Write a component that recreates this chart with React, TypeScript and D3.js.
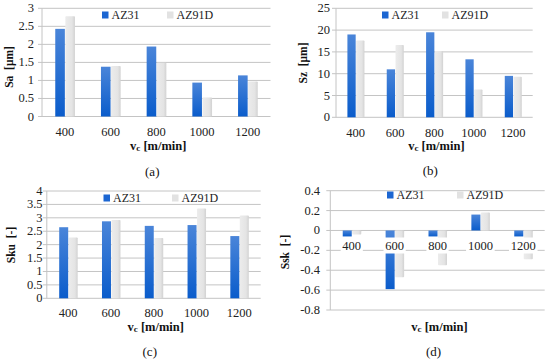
import React from "react";
import * as d3 from "d3";

const categories = ["400", "600", "800", "1000", "1200"];
const seriesNames = ["AZ31", "AZ91D"];
const saAZ31 = [2.43, 1.38, 1.94, 0.94, 1.14];
const saAZ91D = [2.78, 1.4, 1.49, 0.53, 0.97];
const szAZ31 = [19.0, 11.0, 19.5, 13.3, 9.5];
const szAZ91D = [17.6, 16.6, 15.2, 6.4, 9.3];
const skuAZ31 = [2.65, 2.87, 2.7, 2.73, 2.32];
const skuAZ91D = [2.27, 2.92, 2.25, 3.35, 3.09];
const sskAZ31 = [-0.06, -0.59, -0.06, 0.16, -0.06];
const sskAZ91D = [-0.04, -0.47, -0.35, 0.18, -0.29];

const FONT = "Liberation Serif";
const GRID = "#c4c4c4";
const TICK_FS = 12.5;
const LEG_FS = 12;

type PanelCfg = {
  id: string;
  a: number[];
  b: number[];
  x0: number;
  x1: number;
  yRange: [number, number];
  domain: [number, number];
  step: number;
  tickRight: number;
  yTitle: string;
  yTitlePos: [number, number];
  legY: number;
  legBlueX: number;
  legGrayX: number;
  xLabelY: number;
  xTitleY: number;
  capY: number;
  cap: string;
  labelBg?: boolean;
};

const panels: PanelCfg[] = [
  {
    id: "a", a: saAZ31, b: saAZ91D, x0: 42, x1: 270.5, yRange: [116.5, 8.3], domain: [0, 3], step: 0.5,
    tickRight: 34, yTitle: "Sa  [μm]", yTitlePos: [8.5, 67], legY: 15, legBlueX: 102, legGrayX: 167,
    xLabelY: 132, xTitleY: 146, capY: 171, cap: "(a)",
  },
  {
    id: "b", a: szAZ31, b: szAZ91D, x0: 336, x1: 532.7, yRange: [117.3, 8.3], domain: [0, 25], step: 5,
    tickRight: 330, yTitle: "Sz  [μm]", yTitlePos: [303, 63], legY: 15, legBlueX: 382, legGrayX: 442,
    xLabelY: 132.5, xTitleY: 146, capY: 170, cap: "(b)",
  },
  {
    id: "c", a: skuAZ31, b: skuAZ91D, x0: 46.8, x1: 260.7, yRange: [298.3, 191], domain: [0, 4], step: 0.5,
    tickRight: 42.5, yTitle: "Sku  [-]", yTitlePos: [11, 245], legY: 198, legBlueX: 103.5, legGrayX: 172,
    xLabelY: 313, xTitleY: 327, capY: 351.5, cap: "(c)",
  },
  {
    id: "d", a: sskAZ31, b: sskAZ91D, x0: 330.3, x1: 544.7, yRange: [310, 190.7], domain: [-0.8, 0.4], step: 0.2,
    tickRight: 320, yTitle: "Ssk  [-]", yTitlePos: [285, 252], legY: 195, legBlueX: 387, legGrayX: 457,
    xLabelY: 245.5, xTitleY: 327, capY: 351, cap: "(d)", labelBg: true,
  },
];

function fmt(v: number) {
  const r = Math.round(v * 10) / 10;
  return String(r === 0 ? 0 : r);
}

function Panel({ p }: { p: PanelCfg }) {
  const x = d3.scaleBand<string>().domain(categories).range([p.x0, p.x1]);
  const y = d3.scaleLinear().domain(p.domain).range(p.yRange);
  const n = Math.round((p.domain[1] - p.domain[0]) / p.step);
  const ticks = d3.range(n + 1).map((i) => p.domain[0] + i * p.step);
  const bw = x.step() * 0.21;
  const y0 = y(0);
  return (
    <g>
      {ticks.map((t, i) => (
        <g key={i}>
          <line x1={p.x0 - 4} x2={p.x1} y1={y(t)} y2={y(t)} stroke={GRID} strokeWidth={1} />
          <text x={p.tickRight} y={y(t)} textAnchor="end" dominantBaseline="central" fontSize={TICK_FS} fontFamily={FONT} fill="#222">
            {fmt(t)}
          </text>
        </g>
      ))}
      <line x1={p.x0} x2={p.x0} y1={p.yRange[1]} y2={p.yRange[0]} stroke={GRID} strokeWidth={1} />
      {categories.map((c, i) => {
        const cx = (x(c) as number) + x.bandwidth() / 2;
        const va = p.a[i];
        const vb = p.b[i];
        return (
          <g key={c}>
            <rect x={cx + 0.5} y={Math.min(y(vb), y0)} width={bw} height={Math.abs(y(vb) - y0)} fill={`url(#gray-${p.id})`} rx={0.8} />
            <rect x={cx - bw} y={Math.min(y(va), y0)} width={bw} height={Math.abs(y(va) - y0)} fill={`url(#blue-${p.id})`} />
          </g>
        );
      })}
      {categories.map((c) => {
        const cx = (x(c) as number) + x.bandwidth() / 2;
        const w = c.length * 6.4 + 3;
        return (
          <g key={"l" + c}>
            {p.labelBg && <rect x={cx - w / 2} y={p.xLabelY - 8} width={w} height={16} fill="#fff" />}
            <text x={cx} y={p.xLabelY} textAnchor="middle" dominantBaseline="central" fontSize={TICK_FS} fontFamily={FONT} fill="#222">
              {c}
            </text>
          </g>
        );
      })}
      <text
        transform={`translate(${p.yTitlePos[0]},${p.yTitlePos[1]}) rotate(-90)`}
        textAnchor="middle"
        dominantBaseline="central"
        fontSize={11.5}
        fontWeight="bold"
        fontFamily={FONT}
        fill="#111"
        style={{ whiteSpace: "pre" }}
      >
        {p.yTitle}
      </text>
      <text x={(p.x0 + p.x1) / 2 + 2} y={p.xTitleY} textAnchor="middle" dominantBaseline="central" fontSize={12.5} fontWeight="bold" fontFamily={FONT} fill="#111">
        v<tspan fontSize={9} dy={2}>c</tspan>
        <tspan dy={-2}> [m/min]</tspan>
      </text>
      <text x={(p.x0 + p.x1) / 2 - 4} y={p.capY} textAnchor="middle" dominantBaseline="central" fontSize={13} fontFamily={FONT} fill="#111">
        {p.cap}
      </text>
      <rect x={p.legBlueX} y={p.legY - 3.5} width={6.5} height={7} fill="#1c66d2" />
      <text x={p.legBlueX + 9.5} y={p.legY} dominantBaseline="central" fontSize={LEG_FS} fontFamily={FONT} fill="#222">
        {seriesNames[0]}
      </text>
      <rect x={p.legGrayX} y={p.legY - 3.5} width={6.5} height={7} fill="#e2e2e2" />
      <text x={p.legGrayX + 9.5} y={p.legY} dominantBaseline="central" fontSize={LEG_FS} fontFamily={FONT} fill="#222">
        {seriesNames[1]}
      </text>
    </g>
  );
}

export default function App() {
  return (
    <svg width={550} height={361} style={{ position: "absolute", left: 0, top: 0, background: "#fff" }}>
      <defs>
        {panels.map((p) => (
          <React.Fragment key={p.id}>
            <linearGradient id={`blue-${p.id}`} x1="0" y1="0" x2="0" y2="1">
              <stop offset="0%" stopColor="#4a85d9" />
              <stop offset="100%" stopColor="#0a5ccb" />
            </linearGradient>
            <linearGradient id={`gray-${p.id}`} x1="0" y1="0" x2="1" y2="0">
              <stop offset="0%" stopColor="#ececec" />
              <stop offset="70%" stopColor="#e4e4e4" />
              <stop offset="100%" stopColor="#d2d2d2" />
            </linearGradient>
          </React.Fragment>
        ))}
      </defs>
      <rect width={550} height={361} fill="#fff" />
      {panels.map((p) => (
        <Panel key={p.id} p={p} />
      ))}
    </svg>
  );
}
